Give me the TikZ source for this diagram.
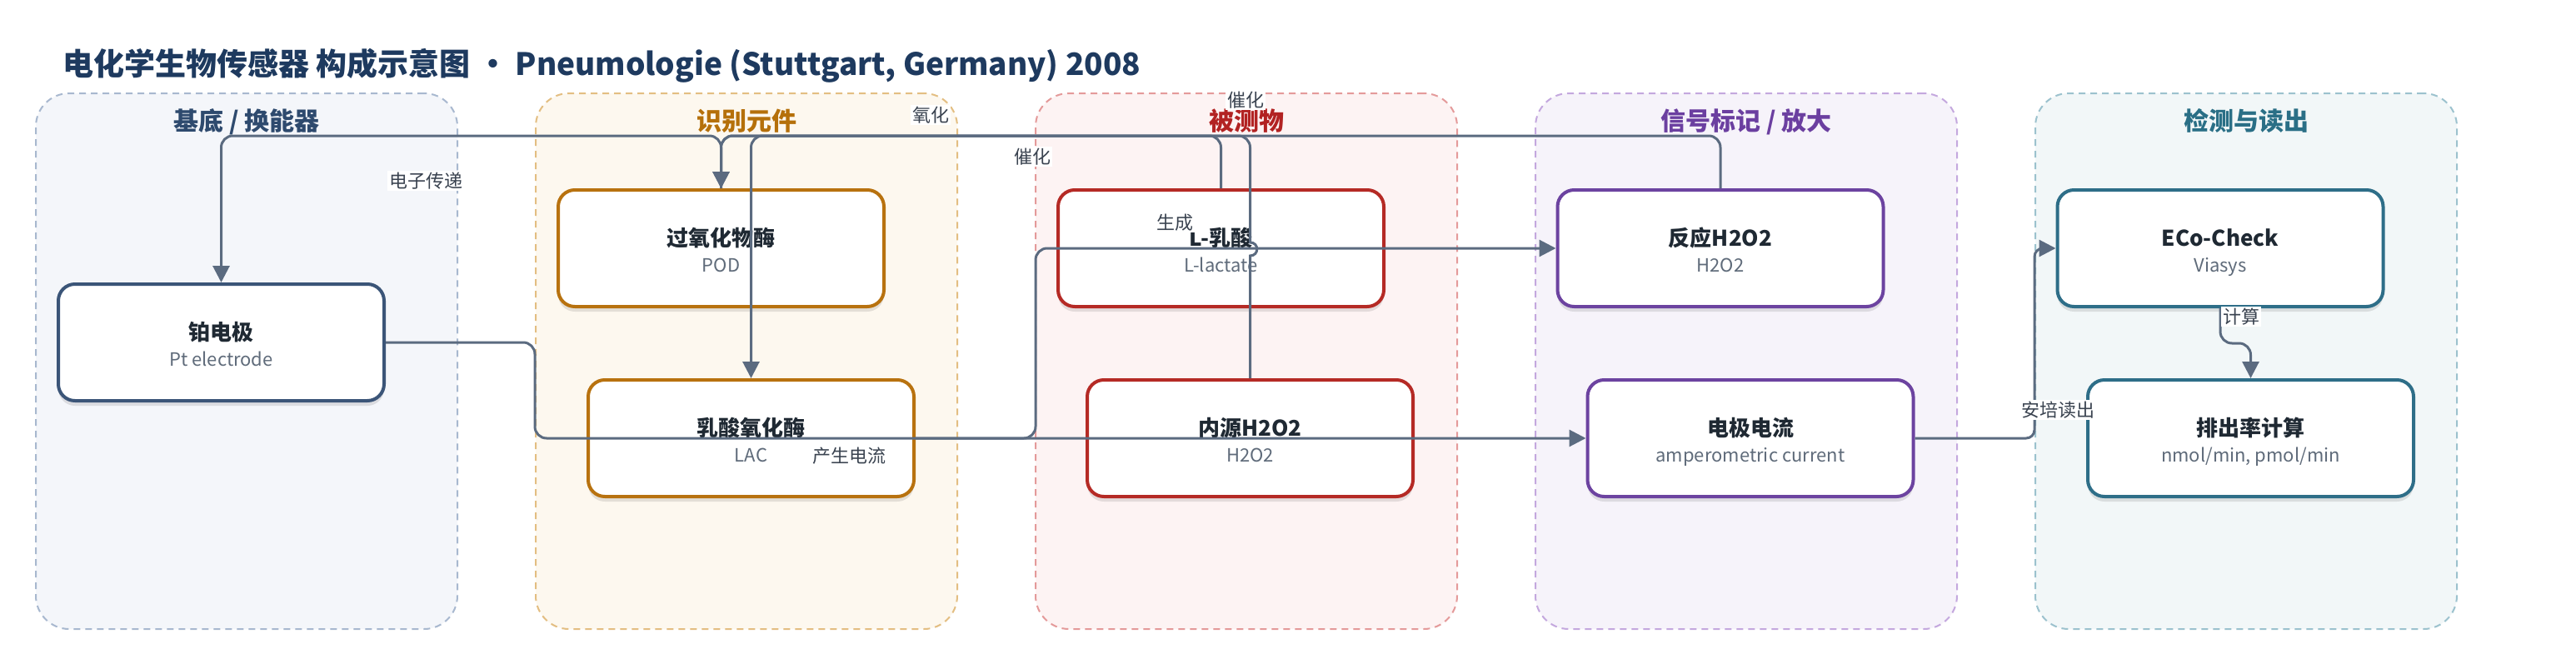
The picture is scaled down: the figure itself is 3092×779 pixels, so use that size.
\documentclass[tikz,border=0pt]{standalone}
\usepackage{fontspec}
\setmainfont{Noto Sans CJK SC}
\usetikzlibrary{arrows.meta,shadows}
\definecolor{ttlc}{HTML}{1E3A5F}
\definecolor{ntxt}{HTML}{1F2933}
\definecolor{nsubc}{HTML}{5F6B7A}
\definecolor{ec}{HTML}{5B6B80}
\definecolor{labc}{HTML}{3A4350}
\definecolor{laneAf}{HTML}{F4F6FA}\definecolor{laneAb}{HTML}{A8B8CF}\definecolor{laneAt}{HTML}{2E4A6E}
\definecolor{laneBf}{HTML}{FDF8EF}\definecolor{laneBb}{HTML}{E3BE82}\definecolor{laneBt}{HTML}{B5700A}
\definecolor{laneCf}{HTML}{FDF3F3}\definecolor{laneCb}{HTML}{E49A9A}\definecolor{laneCt}{HTML}{B22222}
\definecolor{laneDf}{HTML}{F6F3FA}\definecolor{laneDb}{HTML}{C4A8DE}\definecolor{laneDt}{HTML}{6B3FA0}
\definecolor{laneEf}{HTML}{F2F7F8}\definecolor{laneEb}{HTML}{9CC2CE}\definecolor{laneEt}{HTML}{2A6F86}
\definecolor{nA}{HTML}{3B5578}
\definecolor{nB}{HTML}{B8720F}
\definecolor{nC}{HTML}{B52A25}
\definecolor{nD}{HTML}{6C43A0}
\definecolor{nE}{HTML}{2E6E88}
\newcommand\mkbox[6]{%
  \node[nbox,draw=#4] (#1) at (#2,#3) {};
  \node[ntitle] (#1-t) at ([yshift=3pt]#1.center) {#5};
  \node[nsub] (#1-s) at ([yshift=-28pt]#1.center) {#6};
}
\begin{document}
\begin{tikzpicture}[x=1pt,y=-1pt,
  lane/.style={rectangle,rounded corners=40pt,line width=2pt,dash pattern=on 8pt off 6pt,minimum width=506pt,minimum height=643pt,inner sep=0pt},
  lanettl/.style={anchor=base,inner sep=0pt,font=\fontsize{30}{34}\selectfont\bfseries},
  nbox/.style={rectangle,rounded corners=20pt,line width=4pt,fill=white,minimum width=391pt,minimum height=140pt,inner sep=0pt,
    drop shadow={shadow xshift=0pt,shadow yshift=-6pt,opacity=0.10,fill=black}},
  ntitle/.style={anchor=base,inner sep=0pt,text=ntxt,font=\fontsize{26}{30}\selectfont\bfseries},
  nsub/.style={anchor=base,inner sep=0pt,text=nsubc,font=\fontsize{22}{26}\selectfont},
  conn/.style={draw=ec,line width=3pt,rounded corners=14pt},
  arr/.style={-{Triangle[length=20pt,width=20pt]}},
  elab/.style={fill=white,inner sep=2pt,text=labc,font=\fontsize{22}{26}\selectfont}]
\useasboundingbox (0,0) rectangle (3092,779);
\fill[white] (0,0) rectangle (3092,779);
% title
\node[anchor=base west,inner sep=0pt,text=ttlc,font=\fontsize{37}{42}\selectfont\bfseries] (title) at (75,90)
  {电化学生物传感器 构成示意图 · Pneumologie (Stuttgart, Germany) 2008};
% lanes
\node[lane,draw=laneAb,fill=laneAf] (laneA) at (296,433.5) {};
\node[lane,draw=laneBb,fill=laneBf] (laneB) at (896,433.5) {};
\node[lane,draw=laneCb,fill=laneCf] (laneC) at (1496,433.5) {};
\node[lane,draw=laneDb,fill=laneDf] (laneD) at (2096,433.5) {};
\node[lane,draw=laneEb,fill=laneEf] (laneE) at (2696,433.5) {};
\node[lanettl,text=laneAt] (laneA-t) at (296,156) {基底 / 换能器};
\node[lanettl,text=laneBt] (laneB-t) at (896,156) {识别元件};
\node[lanettl,text=laneCt] (laneC-t) at (1496,156) {被测物};
\node[lanettl,text=laneDt] (laneD-t) at (2096,156) {信号标记 / 放大};
\node[lanettl,text=laneEt] (laneE-t) at (2696,156) {检测与读出};
% nodes
\mkbox{pt}{265.5}{411}{nA}{铂电极}{Pt electrode}
\mkbox{pod}{865.5}{298}{nB}{过氧化物酶}{POD}
\mkbox{lac}{901.5}{526}{nB}{乳酸氧化酶}{LAC}
\mkbox{lact}{1465.5}{298}{nC}{L-乳酸}{L-lactate}
\mkbox{endo}{1500.5}{526}{nC}{内源H2O2}{H2O2}
\mkbox{reac}{2065}{298}{nD}{反应H2O2}{H2O2}
\mkbox{cur}{2101}{526}{nD}{电极电流}{amperometric current}
\mkbox{eco}{2665}{298}{nE}{ECo-Check}{Viasys}
\mkbox{rate}{2701.5}{526}{nE}{排出率计算}{nmol/min, pmol/min}
% routing helpers
\coordinate (ytop) at (0,163);
\coordinate (xa) at (642,0);
\coordinate (xb) at (1243,0);
\coordinate (xc) at (2442,0);
\coordinate (yb) at (0,412);
% connectors
\draw[conn,arr] (pod.north) -- (pod.north |- ytop) -- (pt.north |- ytop) -- (pt.north);
\draw[conn,arr] (lact.north) -- (lact.north |- ytop) -- (lac.north |- ytop) -- (lac.north);
\draw[conn,arr] (reac.north) -- (reac.north |- ytop) -- (pod.north |- ytop) -- (pod.north);
\draw[draw=ec,line width=3pt,arr] (endo.north) -- (1500.5,307) .. controls (1511.5,307) and (1511.5,291) .. (1500.5,291)
  [rounded corners=14pt] -- (endo.north |- ytop) -- (pod.north |- ytop) -- (pod.north);
\draw[conn,arr] (pt.east) -- (pt.east -| xa) -- (xa |- cur.west) -- (cur.west);
\draw[conn,arr] (lac.east) -- (xb |- lac.east) -- (xb |- reac.west) -- (reac.west);
\draw[conn,rounded corners=10pt,arr] (cur.east) -- (xc |- cur.east) -- (xc |- eco.west) -- (eco.west);
\draw[conn,arr] (eco.south) -- (eco.south |- yb) -- (rate.north |- yb) -- (rate.north);
% labels
\node[elab] (l1) at (511,217) {电子传递};
\node[elab] (l2) at (1117,138) {氧化};
\node[elab] (l3) at (1495,120) {催化};
\node[elab] (l4) at (1239,188) {催化};
\node[elab] (l5) at (1410,267) {生成};
\node[elab] (l6) at (1019,547) {产生电流};
\node[elab] (l7) at (2690,380) {计算};
\node[elab] (l8) at (2470,492) {安培读出};
\end{tikzpicture}
\end{document}
